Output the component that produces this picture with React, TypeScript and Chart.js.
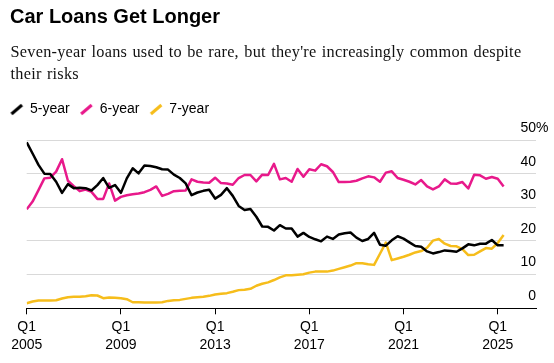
import React, { useEffect, useRef } from 'react';
import { Chart, registerables } from 'chart.js';

Chart.register(...registerables);

const SANS = "'Liberation Sans', Arial, Helvetica, sans-serif";
const SERIF = "'Liberation Serif', 'Times New Roman', serif";

const titleText = 'Car Loans Get Longer';
const subtitleLines = [
  "Seven-year loans used to be rare, but they're increasingly common despite",
  'their risks',
];

const seriesNames = ['5-year', '6-year', '7-year'];
const seriesColors = ['#000000', '#e8198b', '#f6bd1b'];

// Quarterly categories, Q1 2005 .. Q2 2025
const firstYear = 2005;
const quarterCount = 82;
const quarterLabels: string[] = Array.from(
  { length: quarterCount },
  (_, i) => `Q${(i % 4) + 1} ${firstYear + Math.floor(i / 4)}`
);

const fiveYear = [
  49.3, 46.0, 42.6, 40.0, 39.9, 37.6, 34.3, 36.9, 35.7, 35.8,
  35.7, 35.0, 36.6, 38.7, 35.8, 36.6, 34.3, 38.6, 41.6, 40.1,
  42.4, 42.3, 41.9, 41.3, 41.2, 39.7, 38.7, 37.1, 33.6, 34.4,
  34.9, 35.2, 32.6, 33.7, 35.7, 33.4, 30.4, 29.2, 29.5, 27.2,
  24.3, 24.2, 23.1, 24.7, 23.7, 23.7, 21.3, 22.4, 21.2, 20.5,
  19.9, 21.3, 20.6, 21.9, 22.3, 22.5, 21.0, 20.0, 20.6, 22.4,
  18.9, 18.6, 20.2, 21.4, 20.7, 19.6, 18.5, 18.3, 16.9, 16.3,
  16.7, 17.2, 17.0, 16.8, 17.8, 19.0, 18.7, 19.2, 19.2, 20.3,
  18.7, 18.7,
];

const sixYear = [
  29.4, 31.7, 35.1, 38.6, 38.8, 40.6, 44.3, 37.9, 36.3, 34.8,
  35.3, 34.6, 32.5, 32.5, 37.1, 32.0, 33.1, 33.6, 33.9, 34.1,
  34.5, 35.2, 36.2, 33.4, 34.0, 34.8, 34.9, 35.0, 38.3, 37.6,
  37.4, 37.3, 38.8, 37.2, 37.1, 36.7, 38.7, 39.6, 39.6, 37.7,
  39.7, 39.6, 42.9, 38.3, 38.7, 37.6, 41.4, 39.1, 41.3, 40.9,
  42.8, 42.2, 40.5, 37.5, 37.5, 37.6, 37.9, 38.6, 39.2, 38.9,
  37.6, 40.3, 40.7, 38.7, 38.2, 37.6, 36.8, 38.1, 36.2, 35.3,
  36.2, 38.3, 37.1, 37.0, 37.5, 35.6, 39.7, 39.5, 38.5, 39.0,
  38.5, 36.2,
];

const sevenYear = [
  1.5, 2.0, 2.3, 2.3, 2.3, 2.4, 2.9, 3.3, 3.4, 3.4,
  3.6, 3.9, 3.8, 3.0, 3.2, 3.1, 3.0, 2.7, 1.8, 1.8,
  1.7, 1.7, 1.7, 1.8, 2.2, 2.4, 2.5, 2.8, 3.1, 3.3,
  3.4, 3.7, 4.1, 4.3, 4.5, 4.9, 5.4, 5.5, 5.8, 6.7,
  7.3, 7.7, 8.4, 9.2, 9.8, 9.8, 10.0, 10.1, 10.6, 10.9,
  10.9, 10.9, 11.2, 11.7, 12.2, 12.7, 13.4, 13.4, 13.1, 12.9,
  16.2, 19.5, 14.3, 14.8, 15.3, 15.9, 16.6, 17.0, 18.0, 20.1,
  20.6, 19.2, 18.5, 18.4, 17.6, 15.8, 15.9, 16.9, 17.9, 17.7,
  19.4, 21.8,
];

const xTickQuarters = ['Q1 2005', 'Q1 2009', 'Q1 2013', 'Q1 2017', 'Q1 2021', 'Q1 2025'];
const yTickValues = [0, 10, 20, 30, 40, 50];

function makeSlash(color: string): HTMLCanvasElement {
  const c = document.createElement('canvas');
  c.width = 16;
  c.height = 14;
  const g = c.getContext('2d');
  if (g) {
    g.strokeStyle = color;
    g.lineWidth = 3;
    g.lineCap = 'butt';
    g.beginPath();
    g.moveTo(2, 12);
    g.lineTo(12.5, 3);
    g.stroke();
  }
  return c;
}

const percentLabelPlugin = {
  id: 'percentLabel',
  afterDraw(chart: any) {
    const y = chart.scales.y;
    const ctx = chart.ctx;
    const top = yTickValues[yTickValues.length - 1];
    ctx.save();
    ctx.font = `14px ${SANS}`;
    ctx.fillStyle = '#000';
    ctx.textBaseline = 'middle';
    ctx.textAlign = 'left';
    const w = ctx.measureText(String(top)).width;
    ctx.fillText(`${top}%`, y.left - w, y.getPixelForValue(top) - 12);
    ctx.restore();
  },
};

export default function App() {
  const ref = useRef<HTMLCanvasElement | null>(null);

  useEffect(() => {
    if (!ref.current) return;
    const values = [fiveYear, sixYear, sevenYear];
    const xTickIdx = xTickQuarters.map((q) => quarterLabels.indexOf(q));
    const chart = new Chart(ref.current, {
      type: 'line',
      data: {
        datasets: seriesNames.map((name, s) => ({
          label: name,
          data: values[s].map((v, i) => ({ x: i, y: v })),
          borderColor: seriesColors[s],
          backgroundColor: seriesColors[s],
          borderWidth: 2.5,
          pointRadius: 0,
          pointHoverRadius: 0,
          pointStyle: makeSlash(seriesColors[s]) as any,
          borderJoinStyle: 'round' as const,
          tension: 0,
          fill: false,
        })),
      },
      options: {
        animation: false,
        responsive: false,
        devicePixelRatio: 1,
        events: [],
        layout: { padding: { top: 90, left: 0, right: 18, bottom: 4.7 } },
        plugins: {
          title: { display: false },
          tooltip: { enabled: false },
          legend: {
            display: true,
            position: 'top',
            align: 'start',
            labels: {
              usePointStyle: true,
              pointStyleWidth: 11,
              boxHeight: 14,
              padding: 12,
              color: '#000',
              font: { family: SANS, size: 14 },
            },
          },
        },
        scales: {
          x: {
            type: 'linear',
            min: 0,
            max: 86.5,
            afterBuildTicks: (s: any) => {
              s.ticks = xTickIdx.map((v) => ({ value: v }));
            },
            afterFit: (s: any) => {
              s.paddingLeft = 26.7;
            },
            grid: { drawOnChartArea: false, drawTicks: true, tickLength: 6, color: '#000', lineWidth: 1 },
            border: { display: true, color: '#000', width: 1 },
            ticks: {
              padding: 4,
              color: '#000',
              autoSkip: false,
              maxRotation: 0,
              font: { family: SANS, size: 14, lineHeight: 18 / 14 },
              callback: (v: any) => {
                const lbl = quarterLabels[Math.round(Number(v))];
                return lbl ? lbl.split(' ') : '';
              },
            },
          },
          y: {
            type: 'linear',
            position: 'right',
            min: 0,
            max: 54.16,
            afterBuildTicks: (s: any) => {
              s.ticks = yTickValues.map((v) => ({ value: v }));
            },
            afterFit: (s: any) => {
              s.paddingTop = 0;
              s.paddingBottom = 0;
            },
            border: { display: false },
            grid: {
              drawTicks: false,
              lineWidth: 1,
              color: (c: any) => (c.tick && c.tick.value === 0 ? 'rgba(0,0,0,0)' : '#d9d9d9'),
            },
            ticks: {
              mirror: true,
              padding: 0,
              labelOffset: -12,
              color: '#000',
              font: { family: SANS, size: 14 },
              callback: (v: any) => (Number(v) === yTickValues[yTickValues.length - 1] ? '' : String(v)),
            },
          },
        },
      },
      plugins: [percentLabelPlugin],
    });
    return () => chart.destroy();
  }, []);

  return (
    <div
      style={{
        position: 'fixed',
        left: 0,
        top: 0,
        width: 554,
        height: 363,
        background: '#fff',
        overflow: 'hidden',
      }}
    >
      <canvas ref={ref} width={554} height={363} style={{ position: 'absolute', left: 0, top: 0 }} />
      <div
        style={{
          position: 'absolute',
          left: 10,
          top: 4,
          font: `bold 20px/24px ${SANS}`,
          color: '#000',
          whiteSpace: 'nowrap',
        }}
      >
        {titleText}
      </div>
      <div
        style={{
          position: 'absolute',
          left: 10.5,
          top: 40.5,
          font: `16.3px/22.7px ${SERIF}`,
          letterSpacing: '0.25px',
          wordSpacing: '1px',
          color: '#111',
          whiteSpace: 'nowrap',
        }}
      >
        {subtitleLines[0]}
        <br />
        {subtitleLines[1]}
      </div>
    </div>
  );
}
